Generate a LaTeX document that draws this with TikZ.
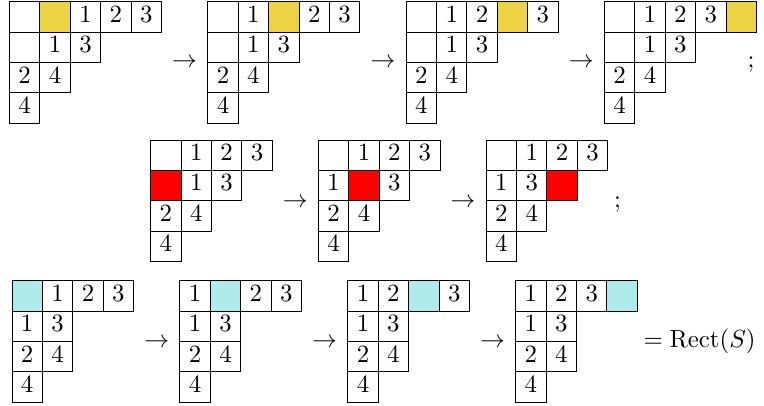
\documentclass[tikz,border=0pt]{standalone}
\usepackage{amsmath}
\usepackage{tikz}
\usepackage{xcolor}
\usetikzlibrary{positioning, calc}

\definecolor{hlyellow}{RGB}{236,212,68}
\definecolor{hlred}{RGB}{255,0,0}
\definecolor{hlcyan}{RGB}{175,235,235}

\def\hlmark{*}
% #1 name (top-left corner), #2 colour of the cell marked *, #3 rows
\newcommand{\youngtab}[3]{%
  \foreach \row [count=\rw] in {#3} {
    \foreach \e [count=\cl] in \row {
      \edef\celltext{\e}
      \ifx\celltext\hlmark
        \node[cell, fill=#2] (#1-\rw-\cl) at ($(#1)+(\cl*30.4-15.2,\rw*30.4-15.2)$) {};
      \else
        \node[cell] (#1-\rw-\cl) at ($(#1)+(\cl*30.4-15.2,\rw*30.4-15.2)$) {\e};
      \fi
    }
  }%
}

\begin{document}
\begin{tikzpicture}[
    x=0.403pt, y=-0.403pt,
    cell/.style={draw, line width=0.4pt, minimum size=12.25pt, inner sep=0pt, outer sep=0pt,
                 text height=1.5ex, text depth=0.5ex},
    sym/.style={anchor=base, inner sep=0pt}
]

\useasboundingbox (0,0) rectangle (764,405);

\coordinate (a1) at (9.5,1.7);
\coordinate (a2) at (207.8,1.7);
\coordinate (a3) at (406.1,1.7);
\coordinate (a4) at (604.4,1.7);

\coordinate (b1) at (150.7,140);
\coordinate (b2) at (318.4,140);
\coordinate (b3) at (486.1,140);

\coordinate (c1) at (12,280.7);
\coordinate (c2) at (179.9,280.7);
\coordinate (c3) at (347.8,280.7);
\coordinate (c4) at (515.7,280.7);

\youngtab{a1}{hlyellow}{{{},*,1,2,3},{{},1,3},{2,4},{4}}
\youngtab{a2}{hlyellow}{{{},1,*,2,3},{{},1,3},{2,4},{4}}
\youngtab{a3}{hlyellow}{{{},1,2,*,3},{{},1,3},{2,4},{4}}
\youngtab{a4}{hlyellow}{{{},1,2,3,*},{{},1,3},{2,4},{4}}

\youngtab{b1}{hlred}{{{},1,2,3},{*,1,3},{2,4},{4}}
\youngtab{b2}{hlred}{{{},1,2,3},{1,*,3},{2,4},{4}}
\youngtab{b3}{hlred}{{{},1,2,3},{1,3,*},{2,4},{4}}

\youngtab{c1}{hlcyan}{{*,1,2,3},{1,3},{2,4},{4}}
\youngtab{c2}{hlcyan}{{1,*,2,3},{1,3},{2,4},{4}}
\youngtab{c3}{hlcyan}{{1,2,*,3},{1,3},{2,4},{4}}
\youngtab{c4}{hlcyan}{{1,2,3,*},{1,3},{2,4},{4}}

\node[sym] (to-a1) at (184.6,67.5) {$\to$};
\node[sym] (to-a2) at (383,67.5) {$\to$};
\node[sym] (to-a3) at (581.3,67.5) {$\to$};
\node[sym] (semi-a) at (751,67.5) {$;$};

\node[sym] (to-b1) at (295.4,207.5) {$\to$};
\node[sym] (to-b2) at (463,207.5) {$\to$};
\node[sym] (semi-b) at (617.5,207.5) {$;$};

\node[sym] (to-c1) at (156.8,347) {$\to$};
\node[sym] (to-c2) at (324.6,347) {$\to$};
\node[sym] (to-c3) at (492.6,347) {$\to$};
\node[sym, anchor=base west] (rect) at (643,347) {$= \mathrm{Rect}(S)$};

\end{tikzpicture}
\end{document}
